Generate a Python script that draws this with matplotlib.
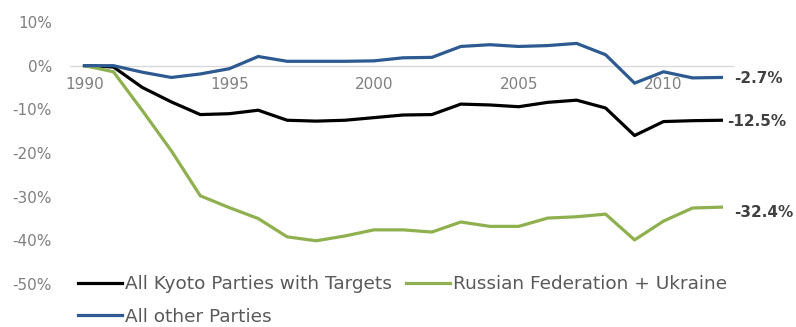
import matplotlib
matplotlib.use("Agg")
import matplotlib.pyplot as plt
from matplotlib.ticker import FuncFormatter

years = list(range(1990, 2013))
kyoto = [0.0, -0.3, -5.0, -8.3, -11.2, -11.0, -10.2, -12.5, -12.7, -12.5, -11.9, -11.3,
         -11.2, -8.8, -9.0, -9.4, -8.4, -7.9, -9.7, -16.0, -12.8, -12.6, -12.5]
russia = [0.0, -1.4, -10.3, -19.5, -29.8, -32.5, -35.0, -39.2, -40.1, -39.0, -37.6, -37.6,
          -38.1, -35.8, -36.8, -36.8, -34.9, -34.6, -34.0, -39.9, -35.6, -32.6, -32.4]
others = [0.0, 0.0, -1.5, -2.7, -1.9, -0.7, 2.1, 1.0, 1.0, 1.0, 1.1, 1.8,
          1.9, 4.4, 4.8, 4.4, 4.6, 5.1, 2.5, -4.0, -1.4, -2.8, -2.7]
end_labels = ["-12.5%", "-32.4%", "-2.7%"]
series_names = ["All Kyoto Parties with Targets", "Russian Federation + Ukraine", "All other Parties"]
colors = ["#000000", "#8fb04f", "#2c5a91"]
xticks = [1990, 1995, 2000, 2005, 2010]
yticks = [10, 0, -10, -20, -30, -40, -50]

plt.rcParams['font.family'] = ['DejaVu Sans']

fig = plt.figure(figsize=(7.96, 3.27), dpi=100)
ax = fig.add_axes([70/796, 1-284/327, (733-70)/796, (284-22)/327])

lines = []
for vals, name, c in zip([kyoto, russia, others], series_names, colors):
    ln, = ax.plot(years, vals, color=c, lw=2.3, label=name, solid_joinstyle='round')
    lines.append(ln)

ax.set_xlim(1989.5, 2012.4)
ax.set_ylim(-50, 10)
ax.set_yticks(yticks)
ax.yaxis.set_major_formatter(FuncFormatter(lambda v, p: f"{int(v)}%"))
ax.set_xticks(xticks)
for s in ['top', 'right', 'left']:
    ax.spines[s].set_visible(False)
ax.spines['bottom'].set_position(('data', 0))
ax.spines['bottom'].set_color('#d9d9d9')
ax.spines['bottom'].set_linewidth(1)
ax.spines['bottom'].set_zorder(0)
ax.tick_params(axis='x', length=0, pad=8, labelsize=11, labelcolor='#808080')
ax.tick_params(axis='y', length=0, pad=13, labelsize=11, labelcolor='#808080')

# end labels
offsets = [(4.3, -1), (9.4, -3.5), (9.4, -1)]
for vals, lab, (dx, dy) in zip([kyoto, russia, others], end_labels, offsets):
    ax.annotate(lab, xy=(years[-1], vals[-1]), xytext=(dx, dy), textcoords='offset points',
                ha='left', va='center', fontsize=11, fontweight='bold', color='#404040')

handles = [lines[0], lines[2], lines[1]]
labels = [series_names[0], series_names[2], series_names[1]]
fig.legend(handles, labels, ncol=2, loc='upper left', bbox_to_anchor=(70.6/796, 1-268/327),
           frameon=False, fontsize=13.3, labelcolor='#595959', handlelength=2.4,
           handletextpad=0.16, columnspacing=0.75, labelspacing=0.78, borderaxespad=0)

fig.savefig("out.png", dpi=100)
